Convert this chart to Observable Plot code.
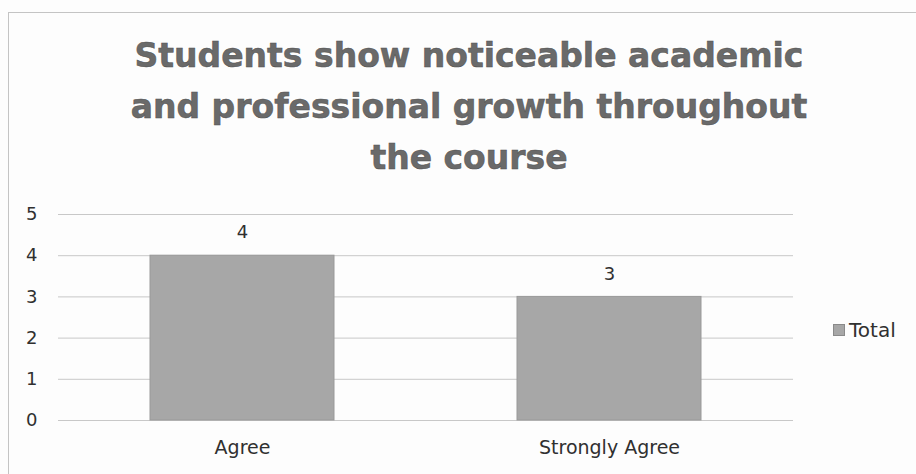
<!DOCTYPE html>
<html>
<head>
<meta charset="utf-8">
<script src="https://cdn.jsdelivr.net/npm/d3@7"></script>
<script src="https://cdn.jsdelivr.net/npm/@observablehq/plot@0.6"></script>
<style>
  html, body { margin: 0; padding: 0; background: #fdfdfd; }
  #wrap { position: relative; width: 916px; height: 474px; overflow: hidden; background: #fdfdfd; }
  #frame { position: absolute; left: 8px; top: 12px; width: 920px; height: 480px; border: 1px solid #c4c4c4; box-sizing: border-box; }
  #title { position: absolute; left: 0; top: 0; width: 938px; height: 195px; text-align: center;
    font-family: "DejaVu Sans", sans-serif; font-weight: 700; font-size: 33px; line-height: 51px;
    color: #6a6a6a; padding-top: 30px; box-sizing: border-box; -webkit-text-stroke: 0.5px #505050; white-space: nowrap; }
  #chart { position: absolute; left: 0; top: 195px; }
  #legend { position: absolute; left: 833px; top: 318px; font-family: "DejaVu Sans", sans-serif; font-size: 20px; color: #303030; display: flex; align-items: center; }
  #legend .sw { width: 12px; height: 12px; background: #a7a7a7; border: 1px solid #8a8a8a; margin-right: 4px; box-sizing: border-box; }
</style>
</head>
<body>
<div id="wrap">
  <div id="frame"></div>
  <div id="title">Students show noticeable academic<br>and professional growth throughout<br>the course</div>
  <div id="chart"></div>
  <div id="legend"><div class="sw"></div><span id="legendLabel"></span></div>
</div>
<script>
const categories = ["Agree", "Strongly Agree"];
const totals = [4, 3];
const yTicks = [0, 1, 2, 3, 4, 5];
const seriesName = "Total";

const data = categories.map((c, i) => ({category: c, value: totals[i]}));
document.getElementById("legendLabel").textContent = seriesName;

const chart = Plot.plot({
  width: 916,
  height: 279,
  marginTop: 19,
  marginBottom: 54,
  marginLeft: 58,
  marginRight: 123,
  style: {background: "transparent", fontFamily: "'DejaVu Sans', sans-serif", fontSize: "18px", color: "#303030"},
  x: {domain: categories, paddingInner: 0.5, paddingOuter: 0.25, label: null},
  y: {domain: [0, 5], label: null},
  marks: [
    Plot.gridY(yTicks, {stroke: "#c8c8c8", strokeOpacity: 1, strokeWidth: 1}),
    Plot.barY(data, {x: "category", y: "value", fill: "#a7a7a7", stroke: "#999", strokeWidth: 1}),
    Plot.text(data, {x: "category", y: "value", text: d => String(d.value), dy: -23, lineAnchor: "middle", fill: "#303030", fontSize: 18}),
    Plot.axisY({ticks: yTicks, tickFormat: d3.format("d"), tickSize: 0, tickPadding: 21, label: null, fontSize: 18}),
    Plot.axisX({tickSize: 0, tickPadding: 20, label: null, fontSize: 19})
  ]
});
document.getElementById("chart").appendChild(chart);
</script>
</body>
</html>
